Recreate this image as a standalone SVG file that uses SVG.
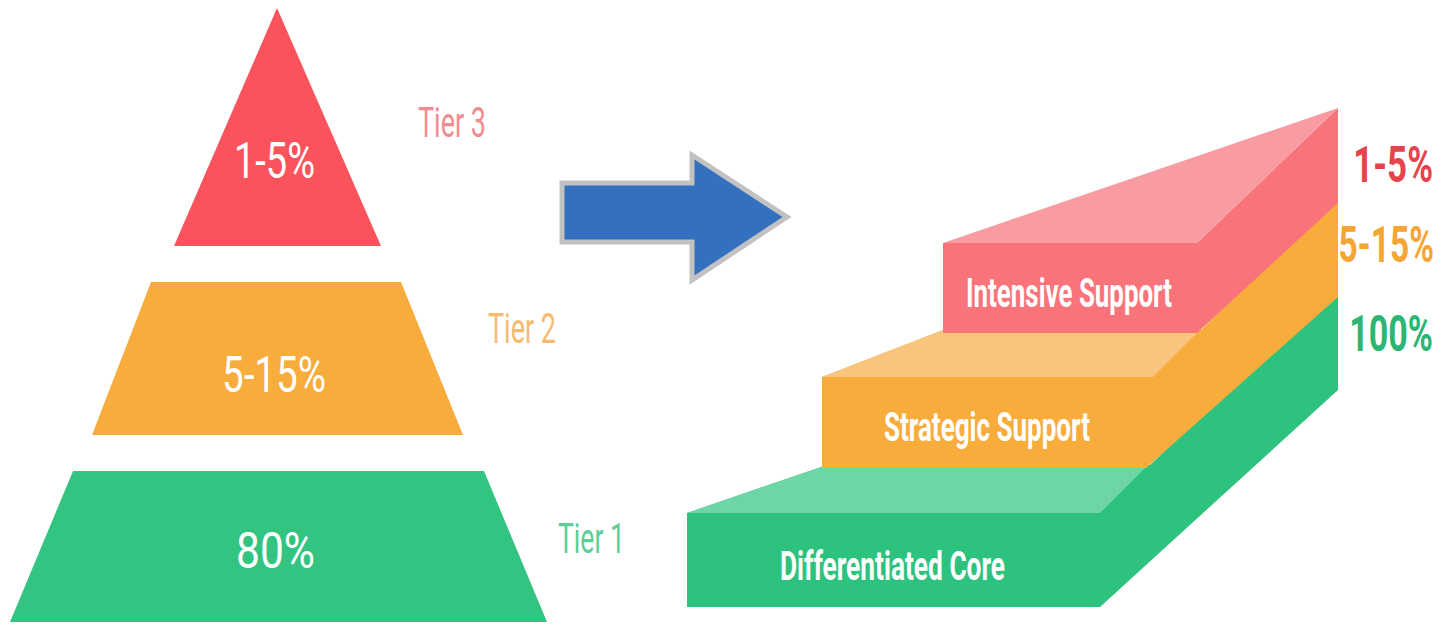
<svg xmlns="http://www.w3.org/2000/svg" width="1442" height="626" viewBox="0 0 1442 626">
  <style>
    .pct { font-family: Roboto, "Liberation Sans", sans-serif; font-size: 50px; fill: #ffffff; }
    .tier { font-family: Roboto, "Liberation Sans", sans-serif; font-size: 43px; }
    .step { font-family: Roboto, "Liberation Sans", sans-serif; font-size: 40px; font-weight: 700; fill: #ffffff; }
    .side { font-family: Roboto, "Liberation Sans", sans-serif; font-size: 50px; font-weight: 700; text-anchor: end; }
  </style>
  <rect width="1442" height="626" fill="#ffffff"/>

  <!-- Pyramid of tiers -->
  <g id="tier3-pyramid">
    <polygon points="277,8 381,246 174,246" fill="#fa535c"/>
    <text class="pct" x="234" y="178" textLength="81" lengthAdjust="spacingAndGlyphs">1-5%</text>
  </g>
  <g id="tier2-pyramid">
    <polygon points="151,282 401,282 463,435 92,435" fill="#f8ac3c"/>
    <text class="pct" x="222" y="392" textLength="104" lengthAdjust="spacingAndGlyphs">5-15%</text>
  </g>
  <g id="tier1-pyramid">
    <polygon points="73,471 484,471 547,622 10,622" fill="#33c481"/>
    <text class="pct" x="236" y="568" textLength="79" lengthAdjust="spacingAndGlyphs">80%</text>
  </g>

  <g id="tier-labels">
    <text class="tier" x="418" y="137" fill="#f28b90" textLength="68" lengthAdjust="spacingAndGlyphs">Tier 3</text>
    <text class="tier" x="488" y="343" fill="#f8bb6e" textLength="68" lengthAdjust="spacingAndGlyphs">Tier 2</text>
    <text class="tier" x="558" y="553" fill="#5ccf97" textLength="67" lengthAdjust="spacingAndGlyphs">Tier 1</text>
  </g>

  <!-- Transition arrow -->
  <g id="connectors">
    <polygon points="562,183 692,183 692,155 787,217 692,280 692,242 562,242" fill="#3371bf" stroke="#c2c2c2" stroke-width="5" stroke-linejoin="miter"/>
  </g>

  <!-- Staircase of supports, drawn back to front; each block runs a little under the one above it -->
  <g id="step-core">
    <polygon points="687,513 827,465 1150,465 1338,285 1338,390 1100,607 687,607" fill="#2dc37f"/>
    <polygon points="687,513 827,465 1148,465 1100,513" fill="#6dd5a6"/>
    <text class="step" x="780" y="580" textLength="225" lengthAdjust="spacingAndGlyphs">Differentiated Core</text>
  </g>
  <g id="step-strategic">
    <polygon points="822,377 943,330 1201,330 1338,195 1338,297 1146,468 822,468" fill="#f8ac3c"/>
    <polygon points="822,377 943,330 1200,330 1153,377" fill="#f9c57c"/>
    <text class="step" x="884" y="441" textLength="206" lengthAdjust="spacingAndGlyphs">Strategic Support</text>
  </g>
  <g id="step-intensive">
    <polygon points="943,243 1197,243 1338,108 1338,203 1197,333 943,333" fill="#f8747a"/>
    <polygon points="943,243 1338,108 1197,243" fill="#f99ca1"/>
    <text class="step" x="966" y="307" textLength="206" lengthAdjust="spacingAndGlyphs">Intensive Support</text>
  </g>

  <!-- Share of students per step, set in a narrowed bold face -->
  <g id="step-labels">
    <text class="side" transform="translate(1433,182) scale(0.7,1)" fill="#e8434c">1-5%</text>
    <text class="side" transform="translate(1434,262) scale(0.67,1)" fill="#f5a533">5-15%</text>
    <text class="side" transform="translate(1433,351) scale(0.68,1)" fill="#2bb673">100%</text>
  </g>
</svg>
